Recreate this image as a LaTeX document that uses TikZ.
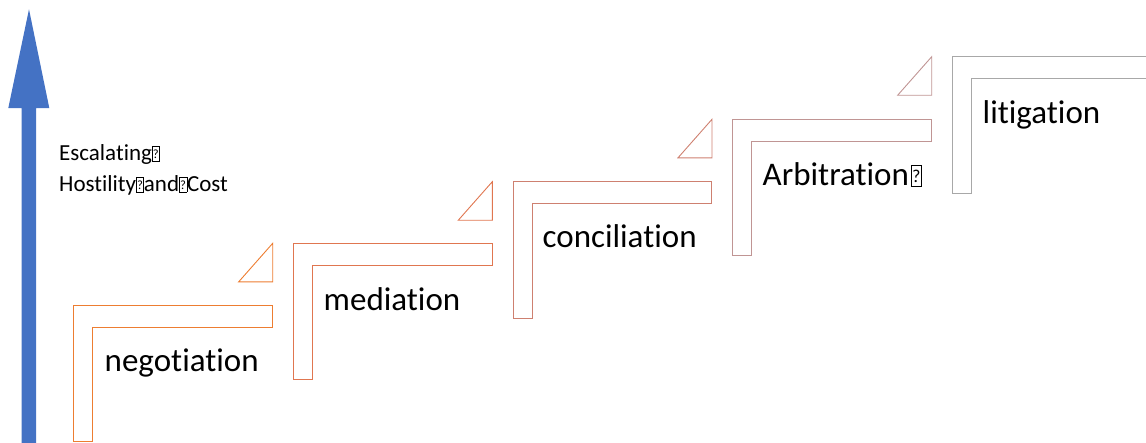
\documentclass[tikz,border=0pt]{standalone}
\usepackage{fontspec}
\setmainfont{Carlito}[Ligatures=NoCommon]
\definecolor{arrowblue}{HTML}{4472C4}
\definecolor{cA}{HTML}{ED7D31}
\definecolor{cB}{HTML}{E07650}
\definecolor{cC}{HTML}{CE8070}
\definecolor{cD}{HTML}{C09594}
\definecolor{cE}{HTML}{A8A8A8}
\newcommand\qbx{{\setlength\fboxsep{0pt}\setlength\fboxrule{0.5pt}\raisebox{-0.03em}{\fbox{\makebox[0.3em]{\rule{0pt}{0.62em}\raisebox{0.1em}{\scalebox{0.55}{?}}}}}}}
\tikzset{
  stepline/.style={line width=0.9pt, line join=miter},
  steplabel/.style={anchor=base west, inner sep=0pt, font=\fontsize{33}{40}\selectfont},
  sidelabel/.style={anchor=base west, inner sep=0pt, font=\fontsize{23}{31}\selectfont}
}
% step: #1 colour, #2 outer left, #3 top, #4 right end
\newcommand\stepL[4]{%
  \draw[stepline,#1] (#4,#3+22) -- (#2+19,#3+22) -- (#2+19,#3+136.3) -- (#2,#3+136.3) -- (#2,#3) -- (#4,#3) -- cycle;}
% triangle: #1 colour, #2 right x, #3 top
\newcommand\stepT[3]{%
  \draw[stepline,#1] (#2,#3) -- (#2,#3+38.5) -- (#2-34,#3+38.5) -- cycle;}
\begin{document}
\begin{tikzpicture}[x=1pt,y=-1pt]
\clip (0,0) rectangle (1146,442);
\useasboundingbox (0,0) rectangle (1146,442);
% escalation arrow
\fill[arrowblue] (21.7,443) -- (21.7,108) -- (8.3,108) -- (29,9.3) -- (49.3,108) -- (36,108) -- (36,443) -- cycle;
\node[sidelabel] (esc1) at (59,160) {Escalating\qbx};
\node[sidelabel] (esc2) at (59,191) {Hostility\qbx and\qbx Cost};
% steps
\stepL{cA}{73.3}{305.3}{272.7}
\stepT{cA}{272.7}{243.3}
\stepL{cB}{293.3}{243.3}{492.3}
\stepT{cB}{492.3}{181.7}
\stepL{cC}{513}{181.7}{711.7}
\stepT{cC}{712}{119.3}
\stepL{cD}{732.7}{119.3}{931.7}
\stepT{cD}{931.7}{56.7}
\stepL{cE}{952.3}{56.7}{1160}
% labels
\node[steplabel] (negotiation) at (104.5,371.5) {negotiation};
\node[steplabel] (mediation) at (323.5,310) {mediation};
\node[steplabel] (conciliation) at (542.5,247.7) {conciliation};
\node[steplabel] (arbitration) at (762.5,185) {Arbitration\kern2pt\qbx};
\node[steplabel] (litigation) at (982.5,123.3) {litigation};
\end{tikzpicture}
\end{document}
